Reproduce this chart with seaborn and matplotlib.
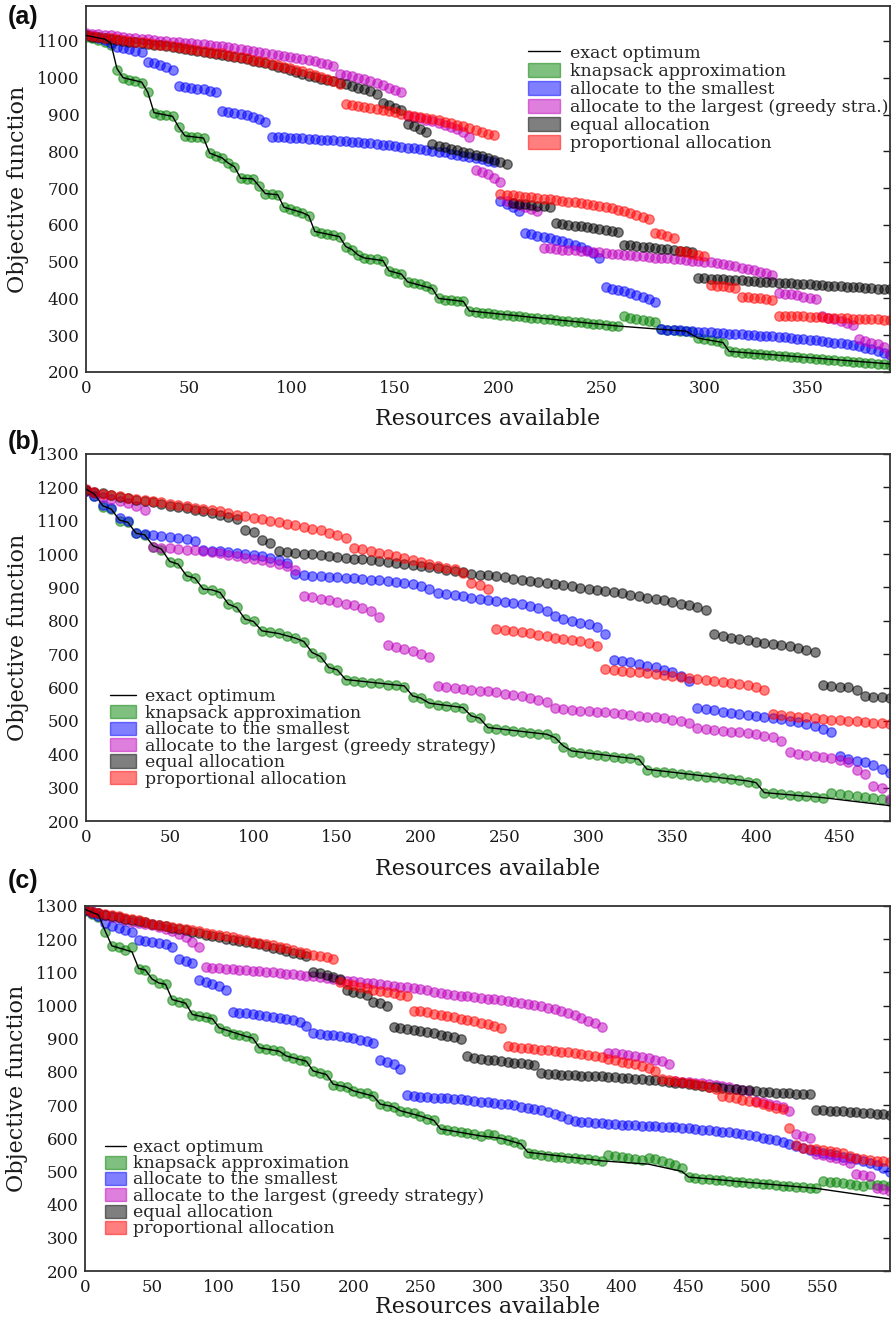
import numpy as np
import matplotlib
matplotlib.use("Agg")
import matplotlib.pyplot as plt
import matplotlib.patches as mpatches
from matplotlib.lines import Line2D
import seaborn as sns

# ---------------- data ----------------
series_names = ["knapsack approximation", "allocate to the smallest",
                "allocate to the largest (greedy strategy)", "equal allocation",
                "proportional allocation"]
series_colors = [(0.0, 0.5, 0.0), (0.0, 0.0, 1.0), (0.75, 0.0, 0.75), (0.0, 0.0, 0.0), (1.0, 0.0, 0.0)]
opt_name = "exact optimum"

# panel (a)
xa = np.arange(0, 391, 3)
green_a = [1110,1107,1103,1098,1088,1022,1000,995,990,986,
           960,905,900,898,895,865,842,840,838,836,
           795,787,782,768,758,727,726,725,705,685,
           684,682,648,642,638,633,625,582,578,575,
           572,568,541,533,518,510,508,506,503,475,
           470,466,445,442,438,433,427,400,396,395,
           394,392,366,363,361,360,358,356,355,353,
           351,350,348,346,345,343,341,340,338,336,
           335,333,331,330,328,326,325,351,348,345,
           342,340,337,316,314,313,312,311,309,292,
           290,287,284,280,256,254,253,251,250,249,
           247,246,244,243,242,240,239,238,236,235,
           233,232,231,229,228,227,225,224,222,221,
           220]
blue_a = [1117,1113,1108,1102,1095,1083,1080,1077,1074,1070,
          1042,1039,1035,1030,1020,977,975,973,970,968,
          965,960,910,907,905,902,898,894,888,880,
          840,839,838,837,836,835,834,833,832,831,
          830,829,828,826,825,823,822,820,818,816,
          814,812,810,808,805,803,801,799,797,794,
          791,788,785,782,778,774,770,665,657,648,
          638,577,574,570,567,563,560,555,550,545,
          539,533,524,511,430,427,423,419,414,409,
          403,398,390,316,315,314,313,312,311,310,
          309,308,306,305,304,303,302,301,300,299,
          298,297,296,295,293,291,290,288,286,284,
          282,280,278,276,273,270,266,262,257,251,
          245]
magenta_a = [1121,1120,1118,1117,1115,1113,1111,1109,1107,1106,
             1104,1103,1101,1100,1098,1097,1095,1094,1092,1091,
             1089,1087,1085,1083,1081,1079,1076,1074,1071,1068,
             1065,1063,1060,1057,1054,1051,1048,1045,1041,1037,
             1033,1010,1007,1004,1000,996,991,985,979,973,
             967,962,896,893,890,886,882,877,872,866,
             860,852,840,750,744,737,728,716,664,659,
             653,648,643,637,537,536,535,533,532,531,
             530,528,527,525,524,522,521,519,518,516,
             514,513,511,510,509,507,506,505,503,502,
             500,498,496,493,490,487,484,480,476,472,
             468,464,416,413,411,408,405,402,399,352,
             348,344,339,333,327,289,285,280,275,268,
             250]
black_a = [1117,1112,1110,1107,1105,1103,1101,1098,1096,1094,
           1092,1090,1088,1085,1083,1081,1079,1076,1074,1071,
           1068,1065,1063,1060,1056,1053,1050,1046,1043,1039,
           1035,1030,1026,1021,1016,1011,1006,1001,997,993,
           990,986,982,978,973,968,963,957,930,925,
           919,913,873,868,861,852,820,815,811,807,
           803,799,795,791,786,781,776,771,766,660,
           658,656,654,652,650,648,604,602,600,598,
           596,594,591,589,587,584,581,545,544,542,
           540,539,537,535,534,532,530,528,526,456,
           455,454,453,452,451,450,449,448,447,446,
           445,444,443,442,441,440,439,438,437,436,
           435,434,433,432,431,430,429,428,427,426,
           425]
red_a = [1115,1113,1111,1109,1107,1105,1103,1100,1098,1096,
         1094,1092,1090,1088,1085,1083,1081,1079,1076,1074,
         1071,1068,1066,1063,1059,1056,1053,1049,1046,1042,
         1038,1034,1030,1026,1022,1018,1013,1008,1002,996,
         990,982,928,926,924,921,918,915,912,909,
         906,902,899,896,893,890,887,884,880,876,
         872,868,863,858,853,848,843,683,681,680,
         678,677,675,673,671,669,667,665,663,661,
         659,656,654,651,648,645,641,637,633,628,
         622,616,578,574,569,564,528,525,522,519,
         515,437,435,433,431,428,405,404,402,401,
         399,397,353,352,352,351,351,350,349,349,
         348,347,347,346,345,345,344,343,343,342,
         342]
opt_x_a = [0,9,12,15,18,27,30,33,42,45,48,57,60,66,69,72,75,81,84,87,
           93,96,105,108,111,123,126,129,132,135,144,147,153,156,168,171,183,186,258,279,
           291,297,309,312,390]
opt_y_a = [1115,1105,1095,1025,1000,988,960,905,895,865,842,836,795,782,768,758,727,725,705,685,
           682,648,633,625,582,568,541,533,518,510,503,475,466,445,427,400,392,366,325,316,
           311,292,280,256,222]

# panel (b)
xb = np.arange(0, 481, 5)
green_b = [1190,1175,1140,1135,1100,1095,1062,1058,1020,1013,
           975,972,935,928,895,893,883,850,840,805,
           798,770,766,762,753,748,738,705,693,660,
           653,624,621,618,615,613,609,607,603,573,
           568,553,549,546,543,538,513,508,478,475,
           473,470,468,464,460,460,448,423,408,404,
           401,398,396,393,389,388,384,353,348,346,
           344,341,338,336,333,331,328,325,323,318,
           313,284,283,280,278,276,275,273,268,283,
           281,278,275,271,268,265,261]
blue_b = [1192,1175,1148,1138,1108,1098,1064,1061,1058,1055,
          1052,1048,1044,1038,1013,1010,1008,1005,1003,1000,
          997,993,988,982,973,939,936,935,933,932,
          931,929,927,925,923,921,918,916,913,910,
          904,895,884,879,876,873,869,866,863,859,
          856,852,849,844,839,830,813,806,799,794,
          789,780,760,684,679,676,672,666,661,654,
          646,635,620,539,536,532,528,525,522,518,
          515,513,508,505,501,496,491,485,476,466,
          395,387,381,376,369,357,343]
magenta_b = [1190,1183,1172,1165,1158,1153,1145,1132,1021,1019,
             1018,1016,1013,1011,1008,1005,1003,998,993,989,
             985,981,976,971,964,953,875,871,866,861,
             856,851,846,839,829,812,727,722,716,709,
             702,692,604,601,599,596,594,591,589,586,
             582,579,574,569,564,557,539,536,533,531,
             529,528,526,523,521,519,516,513,511,508,
             504,500,494,479,476,473,471,468,466,463,
             460,456,451,439,406,402,398,395,392,388,
             382,376,352,342,304,298,265]
black_b = [1192,1186,1182,1177,1172,1168,1163,1159,1155,1150,
           1145,1141,1137,1133,1128,1123,1118,1112,1104,1073,
           1067,1043,1034,1010,1006,1004,1001,999,996,994,
           991,989,986,984,981,979,976,973,970,967,
           963,960,957,953,949,945,941,938,936,933,
           930,926,923,919,916,913,909,906,903,899,
           896,892,889,885,882,878,874,869,866,861,
           856,851,846,841,832,759,754,749,745,742,
           738,735,731,728,724,718,713,706,609,605,
           603,601,594,576,573,571,568]
red_b = [1195,1186,1181,1177,1173,1169,1165,1162,1158,1155,
         1151,1147,1143,1139,1135,1131,1128,1123,1118,1113,
         1108,1104,1100,1096,1091,1086,1081,1076,1071,1064,
         1057,1048,1019,1014,1009,1004,999,994,989,982,
         976,971,965,959,954,944,914,906,894,776,
         772,768,765,762,758,754,750,747,743,739,
         734,726,656,653,651,648,646,643,641,638,
         636,633,629,626,623,621,618,615,612,608,
         603,592,521,518,515,513,511,508,506,503,
         502,501,499,497,495,493,491]
opt_x_b = [0,5,10,15,20,25,30,35,40,45,50,55,60,65,70,75,80,85,90,95,100,
           105,115,125,130,135,140,145,150,155,190,195,200,205,225,230,235,240,
           275,280,285,290,330,335,395,400,405,440,480]
opt_y_b = [1195,1180,1145,1135,1102,1095,1062,1058,1025,1015,978,970,935,928,895,893,885,850,840,805,798,
           770,762,748,738,705,693,660,653,624,605,575,568,553,540,515,508,480,
           460,450,425,410,385,355,320,315,285,270,246]

# panel (c)
xc = np.arange(0, 601, 5)
green_c = [1285,1277,1268,1222,1180,1175,1166,1175,1110,1107,
           1080,1068,1064,1017,1012,1007,973,968,965,959,
           932,922,915,912,907,902,872,869,867,862,
           847,842,837,832,802,797,792,762,757,754,
           742,737,735,727,702,697,695,682,679,675,
           667,659,654,627,624,622,619,615,612,607,
           612,609,599,595,589,582,557,552,549,547,
           545,544,542,540,539,537,535,532,549,547,
           545,542,539,535,542,539,532,525,519,509,
           482,479,477,476,474,473,471,469,468,466,
           464,462,461,459,457,455,453,452,450,449,
           472,469,467,465,462,459,457,462,460,458,
           456]
blue_c = [1288,1280,1270,1250,1240,1235,1229,1222,1199,1195,
          1192,1189,1184,1176,1139,1135,1128,1077,1072,1065,
          1059,1048,982,979,977,974,972,969,965,962,
          959,955,949,939,917,915,912,910,907,905,
          902,897,892,886,835,829,823,810,729,727,
          725,724,722,721,720,719,717,715,712,710,
          709,707,704,702,699,695,692,688,684,679,
          673,666,658,652,650,649,647,645,643,642,
          641,640,639,638,637,636,635,635,634,632,
          630,628,626,624,622,620,618,616,613,610,
          606,602,598,594,589,583,577,571,566,561,
          557,553,549,545,541,537,532,526,519,510,
          498]
magenta_c = [1287,1284,1280,1273,1268,1264,1258,1253,1250,1246,
             1242,1237,1232,1225,1217,1207,1193,1176,1115,1113,
             1112,1111,1109,1108,1107,1105,1104,1102,1100,1098,
             1096,1094,1092,1090,1088,1085,1082,1079,1077,1075,
             1073,1071,1069,1067,1064,1062,1060,1057,1055,1052,
             1049,1046,1042,1038,1035,1032,1030,1028,1026,1024,
             1021,1019,1016,1014,1011,1008,1005,1001,998,994,
             989,984,978,971,963,954,946,935,858,856,
             854,852,849,846,842,837,832,825,772,771,
             769,768,766,764,761,757,754,750,746,741,
             711,708,704,700,695,683,612,608,601,553,
             550,545,541,535,526,493,489,485,450,446,
             440]
black_c = [1288,1282,1278,1274,1270,1266,1262,1258,1254,1251,
           1247,1243,1239,1235,1231,1227,1222,1218,1214,1210,
           1206,1202,1198,1195,1192,1188,1184,1179,1174,1169,
           1164,1159,1154,1148,1102,1097,1092,1086,1079,1048,
           1042,1037,1032,1012,1007,999,936,932,929,926,
           923,920,916,912,908,905,900,848,843,840,
           837,835,832,830,828,826,824,820,796,795,
           793,792,791,790,789,789,788,787,786,785,
           783,781,780,779,777,775,772,770,768,766,
           763,760,758,756,754,752,750,748,746,744,
           742,740,738,737,736,735,734,733,732,685,
           684,683,682,681,679,678,677,676,674,672,
           669]
red_c = [1290,1283,1278,1275,1272,1269,1265,1262,1257,1252,
         1247,1244,1240,1237,1234,1230,1227,1224,1220,1217,
         1214,1210,1207,1202,1197,1192,1189,1185,1182,1177,
         1172,1167,1162,1157,1153,1149,1145,1140,1072,1066,
         1061,1057,1052,1047,1043,1040,1037,1033,1029,985,
         983,980,976,973,969,964,960,956,952,947,
         943,938,932,877,876,873,871,869,867,865,
         863,861,859,857,853,850,848,845,840,836,
         831,827,824,819,813,803,778,775,772,769,
         767,763,760,755,748,728,724,720,716,712,
         708,702,696,691,687,632,580,572,569,567,
         565,562,559,555,547,540,537,535,533,531,
         529]
opt_x_c = [0,10,15,20,30,35,40,45,50,55,60,65,75,80,95,100,120,125,130,145,
           150,165,170,180,185,195,200,215,220,230,235,250,260,265,295,310,325,330,385,420,
           445,450,545,600]
opt_y_c = [1290,1273,1225,1180,1168,1162,1112,1107,1080,1068,1064,1018,1007,973,960,933,907,902,873,862,
           848,832,803,792,763,754,743,727,703,695,683,667,654,628,607,600,583,558,532,522,
           500,483,449,417]

# ---------------- style ----------------
sns.set_theme(style="white", color_codes=False)
plt.rcParams['font.family'] = ['DejaVu Serif']
plt.rcParams['axes.edgecolor'] = '0.2'
plt.rcParams['axes.linewidth'] = 1.3

fig = plt.figure(figsize=(8.92, 13.17), dpi=100)
W, H = 892.0, 1317.0

def axes_px(left, top, right, bottom):
    return fig.add_axes([left / W, 1 - bottom / H, (right - left) / W, (bottom - top) / H])

ax_a = axes_px(86, 6, 890, 372)
ax_b = axes_px(86, 454, 890, 821)
ax_c = axes_px(85, 906, 890, 1271)


def draw_panel(ax, x, ys, ox, oy, labels, xlim, ylim, xticks, yticks,
               leg_anchor, handlelength, handleheight, handletextpad, labelspacing,
               xlabelpad, xtickpad):
    for vals, col in zip(ys, series_colors):
        sns.scatterplot(x=x, y=vals, ax=ax, color=col, edgecolor=col, alpha=0.5,
                        s=46, linewidth=1.0, zorder=2, legend=False)
    sns.lineplot(x=ox, y=oy, ax=ax, color='k', lw=1.0, zorder=3, sort=False,
                 estimator=None, legend=False)
    ax.set_xlim(*xlim)
    ax.set_ylim(*ylim)
    ax.set_xticks(xticks)
    ax.set_yticks(yticks)
    ax.tick_params(axis='x', bottom=False, top=False, labelsize=12, pad=xtickpad, colors='0.1')
    ax.tick_params(axis='y', left=False, right=True, direction='in', length=5, width=1,
                   labelsize=12, pad=4.5, colors='0.1')
    for sp in ax.spines.values():
        sp.set_visible(True)
        sp.set_color('0.2')
        sp.set_linewidth(1.3)
    ax.set_xlabel("Resources available", fontsize=16, labelpad=xlabelpad, color='0.1')
    ax.set_ylabel("Objective function", fontsize=16, labelpad=6, color='0.1')
    handles = [Line2D([], [], color='k', lw=1.0)]
    for col in series_colors:
        handles.append(mpatches.Patch(facecolor=col, edgecolor=col, alpha=0.5, lw=1.0))
    ax.legend(handles, [opt_name] + labels, loc='upper left', bbox_to_anchor=leg_anchor,
              frameon=False, fontsize=12.5, borderpad=0, borderaxespad=0,
              handlelength=handlelength, handleheight=handleheight,
              handletextpad=handletextpad, labelspacing=labelspacing)


labels_a = series_names[:2] + ["allocate to the largest (greedy stra.)"] + series_names[3:]
draw_panel(ax_a, xa, [green_a, blue_a, magenta_a, black_a, red_a], opt_x_a, opt_y_a,
           labels_a, (0, 390), (200, 1195), np.arange(0, 351, 50), np.arange(200, 1101, 100),
           (0.5498, 0.894), 1.85, 0.88, 0.58, 0.05, 7.5, 0)
draw_panel(ax_b, xb, [green_b, blue_b, magenta_b, black_b, red_b], opt_x_b, opt_y_b,
           series_names, (0, 480), (200, 1300), np.arange(0, 451, 50), np.arange(200, 1301, 100),
           (0.0299, 0.362), 1.5, 0.78, 0.53, -0.03, 8.5, 0)
draw_panel(ax_c, xc, [green_c, blue_c, magenta_c, black_c, red_c], opt_x_c, opt_y_c,
           series_names, (0, 600), (200, 1300), np.arange(0, 551, 50), np.arange(200, 1301, 100),
           (0.0248, 0.362), 1.22, 0.78, 0.42, -0.04, -0.5, 0)

for lab, yc in (("(a)", 17), ("(b)", 442), ("(c)", 881)):
    fig.text(8 / W, 1 - yc / H, lab, fontsize=18, fontweight='bold',
             family=['Liberation Sans', 'DejaVu Sans'], va='center', ha='left', color='0.05')

fig.savefig("out.png", dpi=100)
